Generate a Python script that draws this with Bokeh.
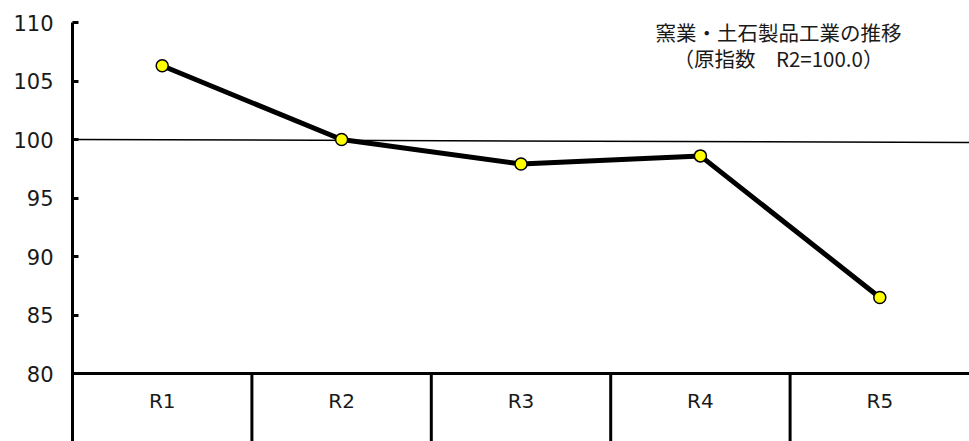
from bokeh.plotting import figure
from bokeh.models import ColumnDataSource, FactorRange, Range1d, FixedTicker
from bokeh.transform import dodge
from bokeh.core.properties import value
from bokeh.embed import file_html
from bokeh.resources import INLINE

categories = ["R1", "R2", "R3", "R4", "R5"]
index_values = [106.3, 100.0, 97.9, 98.6, 86.5]
y_ticks = [80, 85, 90, 95, 100, 105, 110]
ref_line = [100.0, 99.75]
title_lines = ["窯業・土石製品工業の推移", "（原指数　R2=100.0）"]

y_top = 110
y_axis_base = 80
y_bottom = 74.19

p = figure(width=969, height=441,
           x_range=FactorRange(factors=categories, range_padding=0),
           y_range=Range1d(y_bottom, y_top),
           output_backend="svg", toolbar_location=None)
p.min_border_left = 72
p.min_border_right = 0
p.min_border_top = 22
p.min_border_bottom = 0
p.outline_line_color = None
p.xgrid.visible = False
p.ygrid.visible = False
p.background_fill_color = "white"
p.border_fill_color = "white"

# y axis
yax = p.yaxis[0]
yax.ticker = FixedTicker(ticks=y_ticks)
yax.axis_line_width = 3
yax.axis_line_color = "black"
yax.major_tick_in = 6
yax.major_tick_out = 0
yax.major_tick_line_width = 3
yax.minor_tick_line_color = None
yax.major_label_standoff = 19
yax.major_label_text_font = "DejaVu Sans"
yax.major_label_text_font_size = "21px"
yax.major_label_text_color = "#1a1a1a"

# x axis at y=80
xax = p.xaxis[0]
xax.fixed_location = y_axis_base
xax.axis_line_width = 3
xax.axis_line_color = "black"
xax.major_tick_line_color = None
xax.minor_tick_line_color = None
xax.major_label_standoff = 9
xax.major_label_text_font = "DejaVu Sans"
xax.major_label_text_font_size = "20px"
xax.major_label_text_color = "#1a1a1a"

# separators below axis
sep = ColumnDataSource(dict(x=categories, y0=[y_bottom] * len(categories), y1=[y_axis_base] * len(categories)))
p.segment(x0=dodge("x", -0.5, range=p.x_range), y0="y0",
          x1=dodge("x", -0.5, range=p.x_range), y1="y1",
          source=sep, line_color="black", line_width=3)

# reference line at 100
ref = ColumnDataSource(dict(xa=[categories[0]], xb=[categories[-1]], ya=[ref_line[0]], yb=[ref_line[1]]))
p.segment(x0=dodge("xa", -0.5, range=p.x_range), y0="ya",
          x1=dodge("xb", 0.5, range=p.x_range), y1="yb",
          source=ref, line_color="black", line_width=1.5)

# data
src = ColumnDataSource(dict(x=categories, y=index_values))
p.line("x", "y", source=src, line_color="black", line_width=5)
p.scatter("x", "y", source=src, size=12, fill_color="#ffff00", line_color="black", line_width=1.5)

# title text
tsrc = ColumnDataSource(dict(x=["R4", "R4"], y=[109.15, 106.95], t=title_lines))
p.text(x=dodge("x", 0.435, range=p.x_range), y="y", text="t", source=tsrc,
       text_align="center", text_baseline="middle",
       text_font=value("Noto Sans CJK JP"), text_font_size="20.5px", text_color="#1a1a1a")

open("out.html", "w").write(file_html(p, INLINE))
